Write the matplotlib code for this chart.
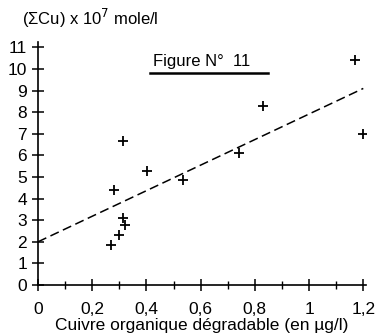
import matplotlib
matplotlib.use('Agg')
import matplotlib.pyplot as plt

cu_degradable = [0.269, 0.280, 0.314, 0.299, 0.314, 0.321, 0.402, 0.535,
                 0.742, 0.830, 1.17, 1.20]
cu_total = [1.85, 4.4, 6.65, 2.3, 3.1, 2.8, 5.3, 4.85,
            6.1, 8.3, 10.4, 7.0]

fit_x = [0.0, 1.2]
fit_y = [2.0, 9.1]

x_ticks = [0, 0.2, 0.4, 0.6, 0.8, 1.0, 1.2]
x_labels = ['0', '0,2', '0,4', '0,6', '0,8', '1', '1,2']
y_ticks = list(range(0, 12))

plt.rcParams['font.family'] = ['Liberation Sans', 'DejaVu Sans']

fig = plt.figure(figsize=(3.78, 3.36), dpi=100)
ax = fig.add_axes([38 / 378, 51 / 336, 328 / 378, 243 / 336])

ax.plot(cu_degradable, cu_total, linestyle='none', marker='+', color='black',
        markersize=7, markeredgewidth=1.3)
ax.plot(fit_x, fit_y, linestyle=(0, (6, 3)), color='black', linewidth=1.1)

ax.set_xlim(0, 1.21)
ax.set_ylim(0, 11.25)

for side in ['top', 'right']:
    ax.spines[side].set_visible(False)
for side in ['left', 'bottom']:
    ax.spines[side].set_linewidth(1.2)

ax.set_xticks(x_ticks)
ax.set_xticklabels(x_labels)
ax.set_xticks([0.1, 0.3, 0.5, 0.7, 0.9, 1.1], minor=True)
ax.set_yticks(y_ticks)
ax.tick_params(axis='both', which='major', direction='inout', length=8, width=1.1,
               labelsize=12.5, colors='black')
ax.tick_params(axis='x', which='minor', direction='inout', length=6, width=1.0)
ax.tick_params(axis='x', pad=8)
ax.tick_params(axis='y', pad=4)

fig.text(22 / 378, 0.946, '(ΣCu) x 10$^7$ mole/l', fontsize=12, ha='left', va='center')
ax.text(0.352, 0.918, 'Figure N°  11', transform=ax.transAxes, fontsize=12,
        ha='left', va='center')
ax.plot([0.341, 0.701], [0.872, 0.872], transform=ax.transAxes, color='black',
        linewidth=1.8, clip_on=False)

ax.set_xlabel('Cuivre organique dégradable (en µg/l)', fontsize=12.5, labelpad=1)

fig.savefig('out.png', dpi=100)
